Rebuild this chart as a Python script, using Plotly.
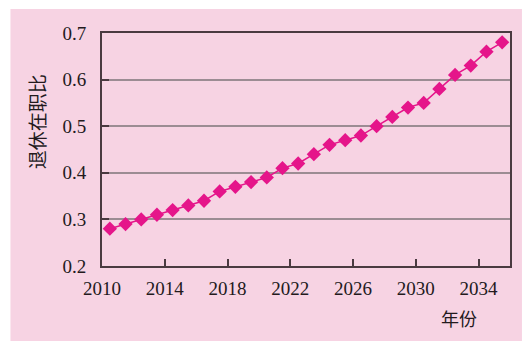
import plotly.graph_objects as go

# Retiree-to-worker ratio by year (each value sits at mid-year)
years = list(range(2010, 2036))
ratio = [0.28, 0.29, 0.30, 0.31, 0.32, 0.33, 0.34, 0.36, 0.37, 0.38,
         0.39, 0.41, 0.42, 0.44, 0.46, 0.47, 0.48, 0.50, 0.52, 0.54,
         0.55, 0.58, 0.61, 0.63, 0.66, 0.68]
x_ticks = [2010, 2014, 2018, 2022, 2026, 2030, 2034]
y_ticks = [0.2, 0.3, 0.4, 0.5, 0.6, 0.7]

PINK_BG = "#F7D3E3"
MARK = "#E5158A"
AXIS = "#4A3A40"
GRID = "#9C8C93"
TEXT = "#231A1D"
SERIF = "Liberation Serif"
CJK = "Noto Sans CJK SC"

W, H = 522, 341
L, R, T, B = 102, 10, 33, 75

fig = go.Figure(go.Scatter(
    x=[y + 0.5 for y in years], y=ratio,
    mode="lines+markers",
    line=dict(color=MARK, width=1.5),
    marker=dict(symbol="diamond", size=11, color=MARK),
    showlegend=False,
))

pw, ph = W - L - R, H - T - B


def px_to_paper_x(px):
    return (px - L) / pw


def px_to_paper_y(py):
    return (H - B - py) / ph


# pink card behind the whole chart
fig.add_shape(type="rect", xref="paper", yref="paper", layer="below",
              x0=px_to_paper_x(10), x1=px_to_paper_x(W + 2),
              y0=px_to_paper_y(H + 2), y1=px_to_paper_y(9),
              fillcolor=PINK_BG, line=dict(width=0))

fig.add_annotation(text="退休在职比", textangle=-90, showarrow=False,
                   xref="paper", yref="paper",
                   xanchor="center", yanchor="middle",
                   x=px_to_paper_x(37), y=px_to_paper_y(122),
                   font=dict(family=CJK, size=19, color=TEXT))
fig.add_annotation(text="年份", showarrow=False,
                   xref="paper", yref="paper",
                   xanchor="center", yanchor="middle",
                   x=px_to_paper_x(461), y=px_to_paper_y(318),
                   font=dict(family=CJK, size=18, color=TEXT))

fig.update_xaxes(range=[2010, 2036], tickvals=x_ticks,
                 ticktext=[str(v) for v in x_ticks],
                 ticks="inside", ticklen=7, tickwidth=1.5, tickcolor=AXIS,
                 showline=True, linecolor=AXIS, linewidth=2, mirror=True,
                 showgrid=False, zeroline=False, ticklabelstandoff=4,
                 tickfont=dict(family=SERIF, size=19, color=TEXT))
fig.update_yaxes(range=[0.2, 0.7], tickvals=y_ticks,
                 ticktext=[f"{v:.1f}" for v in y_ticks],
                 ticks="inside", ticklen=7, tickwidth=1.5, tickcolor=AXIS,
                 showline=True, linecolor=AXIS, linewidth=2, mirror=True,
                 showgrid=True, gridcolor=GRID, gridwidth=1.5,
                 zeroline=False, ticklabelstandoff=10,
                 tickfont=dict(family=SERIF, size=19, color=TEXT))

fig.update_layout(width=W, height=H,
                  margin=dict(l=L, r=R, t=T, b=B),
                  paper_bgcolor="white", plot_bgcolor=PINK_BG)

fig.write_html("out.html")
